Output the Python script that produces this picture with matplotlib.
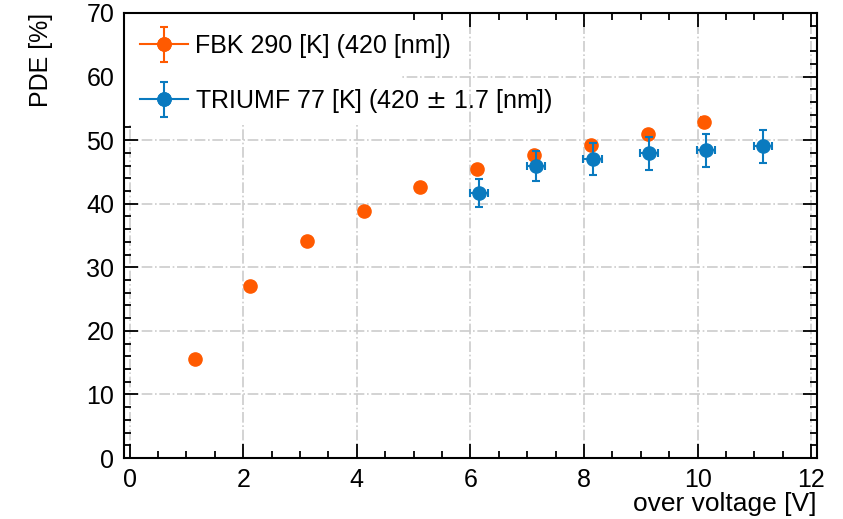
import numpy as np
import matplotlib.pyplot as plt
from matplotlib.lines import Line2D
from matplotlib.patches import Rectangle
from matplotlib.container import ErrorbarContainer
from matplotlib.legend_handler import HandlerErrorbar, HandlerTuple
from matplotlib.ticker import MultipleLocator

plt.rcParams['font.family'] = ['Liberation Sans', 'DejaVu Sans']

# FBK, room temperature
fbk_v = [1.15, 2.12, 3.13, 4.13, 5.12, 6.12, 7.12, 8.12, 9.12, 10.12]
fbk_pde = [15.6, 27.0, 34.2, 38.9, 42.7, 45.4, 47.7, 49.2, 51.0, 52.9]
fbk_err = [0.3, 0.3, 0.3, 0.4, 0.5, 0.5, 0.5, 0.6, 0.6, 0.7]

# TRIUMF, liquid nitrogen temperature
triumf_v = [6.15, 7.15, 8.15, 9.15, 10.15, 11.15]
triumf_pde = [41.7, 45.9, 47.0, 47.9, 48.4, 49.0]
triumf_err = [2.2, 2.4, 2.5, 2.55, 2.55, 2.55]
triumf_verr = [0.16, 0.16, 0.16, 0.16, 0.16, 0.16]

labels = ['FBK 290 [K] (420 [nm])', 'TRIUMF 77 [K] (420 $\\pm$ 1.7 [nm])']
orange = '#ff5a00'
blue = '#0a7abf'

fig = plt.figure(figsize=(8.43, 5.19), dpi=100)
ax = fig.add_axes([0.147, 0.1175, 0.822, 0.8575])

eb = dict(fmt='o', ms=9.5, capsize=3, elinewidth=1.5, capthick=1.5)
ax.errorbar(fbk_v, fbk_pde, yerr=fbk_err, color=orange, zorder=3, **eb)
ax.errorbar(triumf_v, triumf_pde, yerr=triumf_err, xerr=triumf_verr,
            color=blue, zorder=4, **eb)

# legend entries: horizontal line through the marker plus a vertical error bar
handles = []
for c in (orange, blue):
    line = Line2D([], [], color=c, lw=1.5, marker='o', ms=9.5)
    dummy = ax.errorbar([np.nan], [np.nan], yerr=[1], color=c, **eb)
    handles.append((line, dummy))

ax.set_xlim(-0.1, 12.1)
ax.set_ylim(0, 70)
ax.xaxis.set_major_locator(MultipleLocator(2))
ax.xaxis.set_minor_locator(MultipleLocator(0.5))
ax.yaxis.set_major_locator(MultipleLocator(10))
ax.yaxis.set_minor_locator(MultipleLocator(2))
ax.tick_params(which='both', direction='in', top=True, right=True,
               width=1.3, labelsize=18)
ax.tick_params(which='major', length=10, pad=7)
ax.tick_params(which='minor', length=5)
for s in ax.spines.values():
    s.set_linewidth(1.5)

ax.grid(True, which='major', color='#cccccc', linestyle='-.', linewidth=1.2)
ax.set_axisbelow(True)

# white legend box that hides the grid in the upper left corner
ax.add_patch(Rectangle((0, 0.753), 0.398, 0.247, transform=ax.transAxes,
                       facecolor='white', edgecolor='none', zorder=1.5))

ax.set_xlabel('over voltage [V]', fontsize=19, loc='right', labelpad=0)
ax.set_ylabel('PDE [%]', fontsize=18, loc='top', labelpad=24)

leg = ax.legend(handles, labels, loc='upper left', bbox_to_anchor=(-0.008, 1.0),
                fontsize=18, frameon=False,
                labelspacing=1.15, handlelength=1.95, handletextpad=0.25,
                borderaxespad=0.45, borderpad=0.4,
                handler_map={tuple: HandlerTuple(ndivide=1, pad=0),
                             ErrorbarContainer: HandlerErrorbar(yerr_size=0.7)})
leg.set_zorder(5)

fig.savefig('out.png', dpi=100)
